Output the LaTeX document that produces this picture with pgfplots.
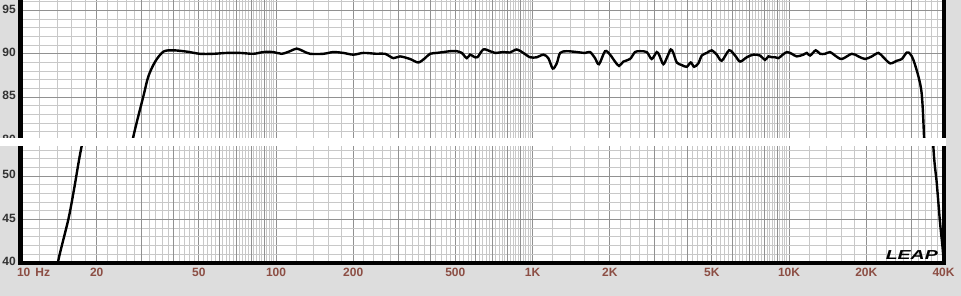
\documentclass[border=0pt]{standalone}
\usepackage{fontspec}
\setmainfont{Liberation Sans}
\usepackage{graphicx}
\usepackage{pgfplots}
\usepackage{pgfplotstable}
\pgfplotsset{compat=1.18}
\definecolor{bggray}{RGB}{221,221,221}
\definecolor{mingrid}{RGB}{200,200,200}
\definecolor{majgrid}{RGB}{145,145,145}
\definecolor{xlab}{RGB}{140,78,68}
\definecolor{ylab}{RGB}{50,50,50}

\pgfplotstableread{
f db
13.5 36.5
14.17 40.3
15.5 45.0
16.3 48.4
17.46 53.4
20 61.2
24 71.9
27.8 80.5
30.4 85.1
31.8 87.4
33.8 89.1
36.4 90.25
39.8 90.4
44.9 90.25
50.5 90.0
57.0 90.0
64.2 90.1
72.4 90.1
81.6 90.0
89.2 90.2
97.6 90.2
105.2 90.0
113.4 90.3
120.4 90.6
127.8 90.3
135.7 90.0
152.9 90.0
167.3 90.2
183.0 90.1
200.2 89.9
219.0 90.1
246.9 90.0
266.1 90.0
286.7 89.5
304.4 89.7
333.1 89.4
358.7 89.0
381.0 89.5
398.5 90.0
423.2 90.1
449.0 90.2
476.9 90.3
506.4 90.3
529.7 90.1
554.0 89.5
570.6 89.9
587.8 89.7
609.3 89.6
643.0 90.5
682.8 90.3
714.1 90.1
769.4 90.2
817.1 90.15
867.7 90.5
920.5 90.1
977.9 89.6
1038.5 89.6
1102 89.9
1152 89.5
1199 88.3
1243 88.9
1281 90.1
1359 90.3
1487 90.2
1602 90.1
1676 90.2
1752 89.5
1816 88.8
1918 90.3
2005 89.9
2097 89.1
2174 88.6
2259 89.1
2399 89.4
2509 90.2
2625 90.3
2788 90.2
2915 89.4
3049 90.2
3122 89.8
3236 88.8
3345 89.6
3458 90.5
3539 90.1
3650 89.0
3817 88.7
3992 88.5
4139 89.0
4263 88.5
4430 88.9
4567 89.8
4777 90.1
4996 90.4
5225 89.9
5466 89.2
5837 90.4
6159 89.8
6442 89.1
6841 89.6
7258 89.9
7707 89.8
8061 89.3
8304 89.7
8562 89.6
8819 89.6
9084 89.5
9365 89.8
9795 90.2
10245 90.0
10715 89.7
11371 89.9
11722 90.1
12075 89.8
12708 90.4
13210 90.0
13817 90.0
14448 90.2
15111 89.8
16053 89.4
17558 90.0
18630 89.7
19786 89.4
21014 89.7
22297 90.1
23316 89.6
24766 88.9
26299 89.2
27506 89.4
28769 90.15
29631 90.0
30524 89.3
31925 87.4
32911 85.3
33600 80.3
35000 66
36520 53.4
37650 49.2
38790 44.6
39740 41.5
40500 38
}\resp

\pgfplotsset{
  common/.style={
    scale only axis, width=924pt, xmin=10, xmax=40000,
    axis line style={draw=none},
    major tick length=0pt, minor tick length=0pt,
    axis background/.style={fill=white},
    xtick={10,20,50,100,200,500,1000,2000,5000,10000,20000,40000},
    minor xtick={12,14,16,18,22,24,26,28,32,34,36,38,42,44,46,48,52,54,56,58,62,64,66,68,72,74,76,78,82,84,86,88,92,94,96,98,
      120,140,160,180,220,240,260,280,320,340,360,380,420,440,460,480,520,540,560,580,620,640,660,680,720,740,760,780,820,840,860,880,920,940,960,980,
      1200,1400,1600,1800,2200,2400,2600,2800,3200,3400,3600,3800,4200,4400,4600,4800,5200,5400,5600,5800,6200,6400,6600,6800,7200,7400,7600,7800,8200,8400,8600,8800,9200,9400,9600,9800,
      12000,14000,16000,18000,22000,24000,26000,28000,32000,34000,36000,38000},
    extra x ticks={30,40,60,70,80,90,300,400,600,700,800,900,3000,4000,6000,7000,8000,9000,30000},
    extra x tick labels={},
    extra x tick style={grid=major},
    grid=both,
    major grid style={draw=majgrid, line width=0.9pt},
    minor grid style={draw=mingrid, line width=0.9pt},
    yticklabel style={font=\bfseries\fontsize{12}{12}\selectfont, text=ylab, anchor=east, inner sep=0pt, xshift=-3.5pt, yshift=1.5pt},
    xticklabel style={font=\bfseries\fontsize{12}{12}\selectfont, text=xlab, anchor=north, inner sep=0pt, yshift=-5pt},
  }
}

\begin{document}
\begin{tikzpicture}[x=1pt,y=1pt]
\fill[bggray] (0,0) rectangle (961,296);
\fill[white] (0,149.5) rectangle (945.7,158);

\begin{axis}[xmode=log, common, at={(19.5pt,158pt)}, anchor=south west, height=138pt,
  ymin=80.3, ymax=96.2,
  ytick={85,90,95}, yticklabels={85,90,95},
  minor ytick={81,82,83,84,86,87,88,89,91,92,93,94,96},
  xticklabels={,,,,,,,,,,,}]
\addplot[black, line width=2.4pt, smooth] table[x=f, y=db] {\resp};
\end{axis}

\begin{axis}[xmode=log, common, at={(19.5pt,33pt)}, anchor=south west, height=116.5pt,
  ymin=40, ymax=53.4,
  ytick={40,45,50}, yticklabels={40,45,50},
  minor ytick={41,42,43,44,46,47,48,49,51,52,53},
  xticklabels={\makebox[0pt][l]{\hspace{-2.5pt}10\hspace{5pt}Hz},20,50,100,200,500,1K,2K,5K,10K,20K,40K}]
\addplot[black, line width=2.4pt, smooth] table[x=f, y=db] {\resp};
\end{axis}

% frame lines
\draw[black, line width=4.4pt] (20.5,158) -- (20.5,296);
\draw[black, line width=4.4pt] (943.7,158) -- (943.7,296);
\draw[black, line width=4.4pt] (20.5,30.8) -- (20.5,149.5);
\draw[black, line width=4.4pt] (943.7,30.8) -- (943.7,149.5);
\draw[black, line width=4.3pt] (18.3,33) -- (945.9,33);

% partially hidden 80 label
\begin{scope}
\clip (0,158) rectangle (19,296);
\node[anchor=east, inner sep=0pt, text=ylab, font=\bfseries\fontsize{12}{12}\selectfont] at (16,156.5) {80};
\end{scope}

% LEAP logo
\node[anchor=south east, inner sep=0pt] at (938,36) {\scalebox{1.5}[1]{\bfseries\itshape\fontsize{13}{13}\selectfont LEAP}};

\pgfresetboundingbox
\useasboundingbox (0,0) rectangle (961,296);
\end{tikzpicture}
\end{document}
